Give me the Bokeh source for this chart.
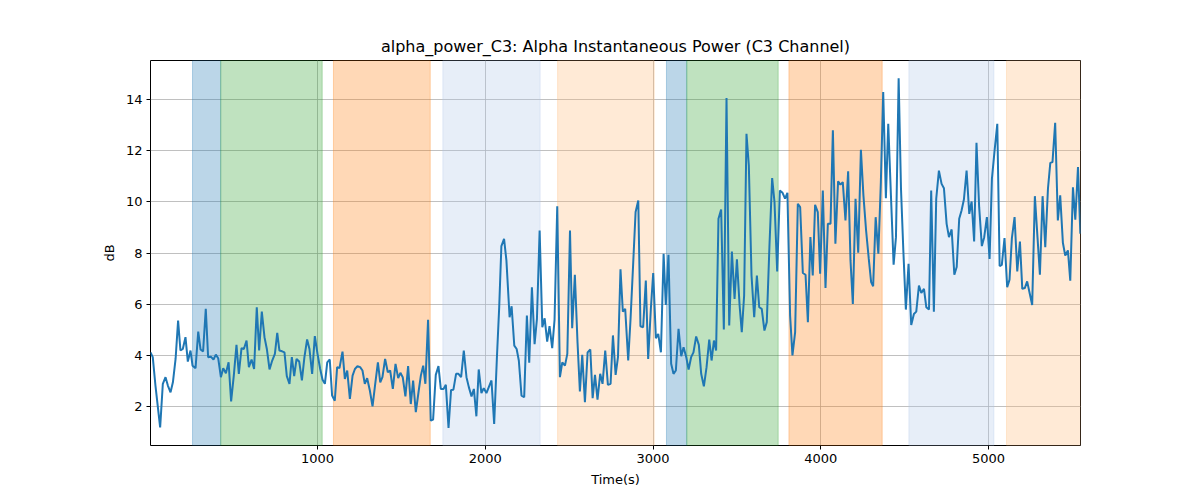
from bokeh.plotting import figure
from bokeh.models import BoxAnnotation, FixedTicker, Range1d
from bokeh.embed import file_html
from bokeh.resources import INLINE

# alpha power trace (time in s, power in dB)
t_sec = [4.5, 18, 34, 62, 78, 94, 108, 124, 138, 154, 169, 183, 197, 213, 227, 243, 255, 273, 289, 303,
         318, 334, 348, 364, 380, 394, 408, 424, 438, 454, 470, 485, 501, 517, 531, 547, 561, 577, 591, 607,
         622, 638, 652, 668, 684, 698, 714, 730, 746,
         760, 773, 789, 803, 817, 833, 847, 861, 875, 891, 907, 922, 938, 952, 968, 984, 1000, 1016, 1030, 1044,
         1058, 1073, 1087, 1103, 1117, 1131, 1149, 1163, 1177, 1193, 1209, 1223, 1238, 1254, 1268, 1282, 1296,
         1312, 1328, 1344, 1360, 1374, 1387, 1403, 1419, 1433,
         1449, 1465, 1481, 1494, 1508, 1524, 1540, 1556, 1570, 1586, 1602, 1616, 1630, 1643, 1659, 1675, 1689,
         1705, 1721, 1735, 1751, 1765, 1781, 1796, 1810, 1826, 1840, 1856, 1872, 1888, 1902, 1918, 1932, 1947,
         1961, 1977, 1991, 2007, 2021, 2037, 2053, 2069, 2083, 2096, 2112, 2126,
         2145, 2157, 2173, 2187, 2200, 2216, 2232, 2248, 2262, 2278, 2294, 2308, 2324, 2340, 2354, 2369, 2383,
         2399, 2413, 2429, 2445, 2459, 2475, 2489, 2505, 2518, 2534, 2550, 2564, 2578, 2594, 2610, 2626, 2640,
         2654, 2669, 2685, 2699, 2715, 2731, 2747, 2761, 2777, 2791, 2806, 2820, 2834, 2852, 2866,
         2882, 2896, 2912, 2925, 2941, 2957, 2971, 2987, 3001, 3017, 3031, 3047, 3063, 3076, 3092, 3108, 3122,
         3136, 3152, 3168, 3182, 3198, 3212, 3227, 3241, 3257, 3273, 3287, 3303, 3319, 3335, 3349, 3363, 3376,
         3390, 3406, 3422, 3438, 3454, 3470, 3486, 3500, 3516, 3529, 3543,
         3557, 3571, 3587, 3603, 3619, 3633, 3648, 3664, 3678, 3694, 3710, 3724, 3740, 3756, 3772, 3787, 3801,
         3817, 3831, 3847, 3863, 3877, 3893, 3909, 3923, 3938, 3952, 3966, 3982, 3996, 4012, 4028, 4042, 4058,
         4072, 4087, 4103, 4117, 4131, 4147, 4163, 4177, 4191, 4207, 4223, 4239, 4254, 4270, 4286, 4300, 4312,
         4327, 4343, 4358, 4372, 4388, 4402, 4418, 4434, 4448, 4464, 4478, 4492, 4507, 4523, 4539, 4555, 4569,
         4585, 4599, 4615, 4629, 4645, 4658, 4674, 4688, 4704, 4720, 4734, 4750, 4764, 4780, 4796, 4810, 4825,
         4839, 4853, 4869,
         4885, 4899, 4914, 4928, 4944, 4960, 4974, 4990, 5006, 5020, 5036, 5052, 5066, 5079, 5095, 5111, 5125,
         5139, 5155, 5171, 5187, 5201, 5216, 5230, 5246, 5260, 5276, 5292, 5306, 5322, 5338, 5354, 5368, 5381,
         5397, 5413, 5427, 5443, 5457, 5473, 5487, 5503, 5517, 5533, 5547]
power_db = [4.12, 3.93, 2.82, 1.19, 2.89, 3.15, 2.82, 2.56, 2.95, 3.86, 5.36, 4.19, 4.25, 4.71, 3.76, 4.19, 3.6, 3.5, 4.93, 4.23,
            4.15, 5.82, 3.93, 3.95, 3.84, 4.03, 3.89, 3.15, 3.5, 3.3, 3.73, 2.2, 3.21, 4.41, 3.28, 4.28, 4.25, 4.58, 3.54, 3.84,
            3.47, 5.88, 4.19, 5.71, 4.71, 4.25, 3.45, 3.8, 4.06,
            4.88, 4.19, 4.16, 4.12, 3.19, 2.89, 3.93, 3.19, 3.86, 3.76, 3.02, 3.93, 4.62, 4.25, 3.28, 4.75, 4.06, 3.47, 3.05, 2.89,
            3.73, 3.84, 2.43, 2.23, 3.54, 3.5, 4.15, 3.08, 3.41, 2.3, 3.21, 3.47, 3.58, 3.54, 3.41, 2.89, 3.11,
            2.63, 2.01, 2.89, 3.73, 2.95, 3.15, 3.86, 3.34, 3.41,
            2.69, 3.67, 3.11, 3.32, 3.15, 2.4, 3.58, 2.1, 3.02, 1.78, 2.56, 3.21, 3.6, 2.89, 5.39, 1.45, 1.49,
            3.24, 3.58, 2.69, 2.69, 2.85, 1.17, 2.65, 2.66, 3.28, 3.28, 3.15, 4.19, 3.15, 2.76, 2.4, 2.69, 1.62,
            3.45, 2.53, 2.72, 2.53, 2.76, 3.02, 1.32, 3.86, 5.88, 8.27, 8.55, 7.71,
            5.49, 5.92, 4.38, 4.25, 3.8, 2.43, 2.37, 5.56, 3.71, 6.66, 4.44, 5.43, 8.88, 5.1, 5.45, 4.54, 5.14,
            4.28, 5.4, 9.83, 3.15, 3.73, 3.6, 4.06, 8.88, 5.06, 7.15, 4.49, 2.59, 4.02, 2.17, 4.12, 4.23, 2.33,
            3.24, 2.27, 3.28, 2.89, 4.19, 2.85, 2.89, 4.78, 3.24, 3.93, 7.36, 5.71, 5.82, 3.8, 5.43,
            7.64, 9.6, 10.05, 5.14, 5.1, 6.92, 3.86, 5.82, 7.22, 4.67, 4.84, 4.12, 7.97, 5.97, 7.93, 3.67, 3.28,
            3.41, 5.04, 3.97, 4.32, 3.93, 3.45, 3.93, 4.12, 4.74, 4.41, 3.28, 2.79, 3.54, 4.62, 3.8, 4.58, 4.19,
            9.34, 9.7, 5.01, 14.05, 5.17, 8.06, 6.21, 7.75, 5.95, 4.91, 6.34,
            12.66, 11.42, 7.12, 5.49, 7.12, 5.88, 5.82, 4.97, 5.3, 8.29, 10.93, 9.99, 7.28, 10.44, 10.35, 10.12, 10.35,
            5.56, 4.0, 4.91, 9.92, 9.79, 7.22, 7.15, 5.3, 8.62, 7.12, 9.88, 9.6, 7.19, 10.44, 6.63, 9.14, 9.14,
            12.79, 8.36, 10.8, 10.67, 10.77, 9.27, 11.19, 7.71, 6.01, 10.12, 8.01, 12.03, 10.25, 8.88, 7.77, 6.86, 6.7,
            9.4, 7.97, 10.77, 14.29, 10.14, 13.05, 10.25, 7.54, 8.62, 14.83, 10.51, 8.1, 5.79, 7.58, 5.19, 5.62, 5.71,
            6.73, 6.44, 6.6, 5.88, 5.79, 10.44, 5.71, 10.12, 11.22, 10.7, 10.53, 9.14, 8.62, 8.92, 7.15, 7.45, 9.34,
            9.66, 10.09, 11.22,
            9.53, 10.01, 8.45, 12.31, 9.79, 8.27, 8.62, 9.4, 7.77, 10.9, 12.01, 13.05, 7.49, 7.54, 8.58, 6.66, 6.96,
            8.58, 9.4, 7.28, 8.45, 6.6, 6.63, 6.89, 6.4, 5.97, 10.22, 8.58, 7.15, 10.22, 8.23, 10.51, 11.52, 11.55,
            13.09, 9.27, 10.25, 8.4, 7.9, 8.1, 6.92, 10.57, 9.3, 11.36, 8.75]

# shaded event windows
span_start = [255, 423, 1095, 1747, 2431, 3080, 3201, 3810, 4525, 5107]
span_end = [423, 1028, 1672, 2327, 3007, 3201, 3746, 4366, 5032, 5548]
span_color = ["#1f77b4", "#2ca02c", "#ff7f0e", "#aec7e8", "#ffbb78",
              "#1f77b4", "#2ca02c", "#ff7f0e", "#aec7e8", "#ffbb78"]

x_ticks = [1000, 2000, 3000, 4000, 5000]
y_ticks = [2, 4, 6, 8, 10, 12, 14]

font = "DejaVu Sans"

p = figure(width=1200, height=500, output_backend="svg", toolbar_location=None,
           title="alpha_power_C3: Alpha Instantaneous Power (C3 Channel)",
           x_axis_label="Time(s)", y_axis_label="dB",
           x_range=Range1d(4.5, 5548), y_range=Range1d(0.48, 15.52),
           min_border_left=150, min_border_right=120, min_border_top=60, min_border_bottom=55)

for s, e, c in zip(span_start, span_end, span_color):
    p.add_layout(BoxAnnotation(left=s, right=e, fill_color=c, fill_alpha=0.3,
                               line_color=c, line_alpha=0.3, level="underlay"))

p.line(t_sec, power_db, line_color="#1f77b4", line_width=2)

p.title.align = "center"
p.title.text_font = font
p.title.text_font_size = "16px"
p.title.text_font_style = "normal"
p.title.text_color = "black"

p.xaxis.ticker = FixedTicker(ticks=x_ticks)
p.yaxis.ticker = FixedTicker(ticks=y_ticks)
for ax in (p.xaxis, p.yaxis):
    ax.axis_line_color = None
    ax.major_tick_line_color = "black"
    ax.major_tick_out = 4
    ax.major_tick_in = 0
    ax.minor_tick_line_color = None
    ax.major_label_text_font = font
    ax.major_label_text_font_size = "13px"
    ax.major_label_text_color = "black"
    ax.major_label_standoff = 4
    ax.axis_label_text_font = font
    ax.axis_label_text_font_size = "13px"
    ax.axis_label_text_font_style = "normal"
    ax.axis_label_text_color = "black"
    ax.axis_label_standoff = 6

p.grid.grid_line_color = "#b0b0b0"
p.grid.grid_line_width = 0.8
p.outline_line_color = "black"
p.outline_line_width = 1
p.outline_line_alpha = 1

open("out.html", "w").write(file_html(p, INLINE))
